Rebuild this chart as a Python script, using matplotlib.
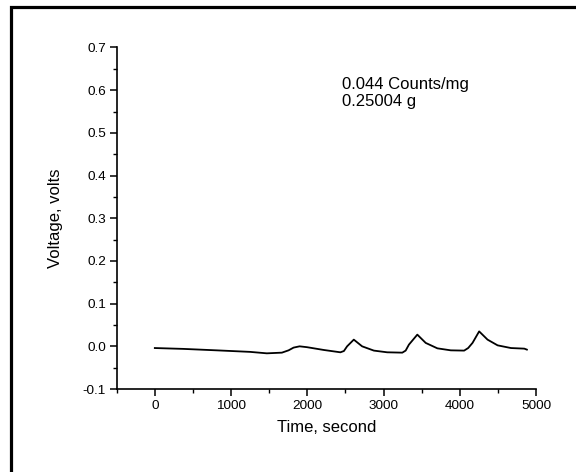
import matplotlib
matplotlib.use("Agg")
import matplotlib.pyplot as plt
from matplotlib.patches import Rectangle
from matplotlib.ticker import MultipleLocator

# trace (time in s, voltage in V)
time = [0, 373, 811, 1250, 1469, 1667, 1754, 1820, 1899, 1996, 2215, 2434,
        2480, 2522, 2610, 2719, 2873, 3048, 3246, 3290, 3333, 3443, 3553,
        3706, 3882, 4057, 4110, 4167, 4254, 4364, 4496, 4671, 4846, 4880]
volt = [-0.004, -0.006, -0.0094, -0.013, -0.0164, -0.0148, -0.0094, -0.003,
        0.0, -0.002, -0.0085, -0.014, -0.011, 0.0, 0.0157, 0.0, -0.010,
        -0.014, -0.0148, -0.010, 0.004, 0.0274, 0.008, -0.0047, -0.0094,
        -0.010, -0.004, 0.008, 0.035, 0.0157, 0.0023, -0.004, -0.0054, -0.0077]

notes = ["0.044 Counts/mg", "0.25004 g"]
xticks = [0, 1000, 2000, 3000, 4000, 5000]
yticks = [-0.1, 0.0, 0.1, 0.2, 0.3, 0.4, 0.5, 0.6, 0.7]

plt.rcParams['font.family'] = ['Liberation Sans', 'DejaVu Sans']

fig = plt.figure(figsize=(5.76, 4.72), dpi=100)
ax = fig.add_axes([0.2026, 0.1758, 0.728, 0.7236])

ax.plot(time, volt, color='black', lw=1.3)

ax.set_xlim(-500, 5000)
ax.set_ylim(-0.1, 0.7)
ax.set_xticks(xticks)
ax.set_yticks(yticks)
ax.set_yticklabels([f"{v:.1f}" for v in yticks])
ax.xaxis.set_minor_locator(MultipleLocator(500))
ax.yaxis.set_minor_locator(MultipleLocator(0.05))

for s in ['top', 'right']:
    ax.spines[s].set_visible(False)
for s in ['left', 'bottom']:
    ax.spines[s].set_linewidth(1.2)

ax.tick_params(which='major', direction='out', length=4.7, width=1.1,
               labelsize=9.7, pad=3)
ax.tick_params(which='minor', direction='out', length=2.8, width=1.0)

ax.set_xlabel("Time, second", fontsize=12, labelpad=6)
ax.set_ylabel("Voltage, volts", fontsize=12, labelpad=14)

ax.text(0.537, 0.8296, "\n".join(notes), transform=ax.transAxes,
        fontsize=12, va='baseline', ha='left', linespacing=1.12)

# heavy frame round the picture (only left and top edges fall inside)
fig.patches.append(Rectangle((0.0186, -0.2), 1.2, 0.9862 + 0.2,
                             transform=fig.transFigure, fill=False,
                             edgecolor='black', lw=2.3, clip_on=False))

fig.savefig("out.png", dpi=100)
